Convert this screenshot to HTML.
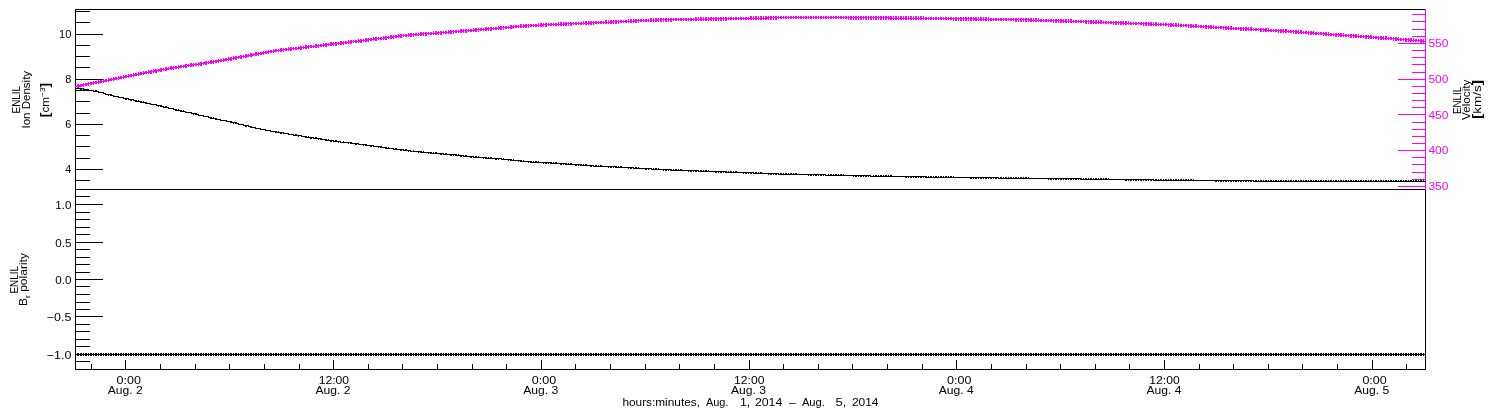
<!DOCTYPE html>
<html><head><meta charset="utf-8"><title>ENLIL time series</title>
<style>html,body{margin:0;padding:0;background:#fff}body{width:1500px;height:410px;overflow:hidden}svg{display:block}text{font-family:"Liberation Sans",sans-serif;font-size:11px}</style></head><body>
<svg width="1500" height="410" viewBox="0 0 1500 410">
<rect width="1500" height="410" fill="#fff"/>
<path fill="#000" shape-rendering="crispEdges" d="M75 9h1351v1h-1351zM75 9h1v361h-1zM75 189h1351v1h-1351zM75 369h1351v1h-1351zM1425 189h1v181h-1zM75 11h15v1h-15zM75 22h15v1h-15zM75 34h28v1h-28zM75 45h15v1h-15zM75 56h15v1h-15zM75 67h15v1h-15zM75 79h28v1h-28zM75 90h15v1h-15zM75 101h15v1h-15zM75 113h15v1h-15zM75 124h28v1h-28zM75 135h15v1h-15zM75 146h15v1h-15zM75 158h15v1h-15zM75 169h28v1h-28zM75 180h15v1h-15zM75 196h15v1h-15zM75 204h28v1h-28zM75 212h15v1h-15zM75 219h15v1h-15zM75 227h15v1h-15zM75 234h15v1h-15zM75 242h28v1h-28zM75 249h15v1h-15zM75 257h15v1h-15zM75 264h15v1h-15zM75 272h15v1h-15zM75 279h28v1h-28zM75 286h15v1h-15zM75 294h15v1h-15zM75 302h15v1h-15zM75 309h15v1h-15zM75 316h28v1h-28zM75 324h15v1h-15zM75 331h15v1h-15zM75 339h15v1h-15zM75 346h15v1h-15zM75 354h28v1h-28zM75 361h15v1h-15zM91 364h1v5h-1zM125 360h1v9h-1zM160 364h1v5h-1zM195 364h1v5h-1zM229 364h1v5h-1zM264 364h1v5h-1zM299 364h1v5h-1zM333 360h1v9h-1zM368 364h1v5h-1zM402 364h1v5h-1zM437 364h1v5h-1zM472 364h1v5h-1zM506 364h1v5h-1zM541 360h1v9h-1zM575 364h1v5h-1zM610 364h1v5h-1zM645 364h1v5h-1zM679 364h1v5h-1zM714 364h1v5h-1zM749 360h1v9h-1zM783 364h1v5h-1zM818 364h1v5h-1zM852 364h1v5h-1zM887 364h1v5h-1zM922 364h1v5h-1zM956 360h1v9h-1zM991 364h1v5h-1zM1026 364h1v5h-1zM1060 364h1v5h-1zM1095 364h1v5h-1zM1129 364h1v5h-1zM1164 360h1v9h-1zM1199 364h1v5h-1zM1233 364h1v5h-1zM1268 364h1v5h-1zM1302 364h1v5h-1zM1337 364h1v5h-1zM1372 360h1v9h-1zM1406 364h1v5h-1z"/>
<path fill="#ff00ff" shape-rendering="crispEdges" d="M1425 9h1v181h-1zM1412 14h13v1h-13zM1412 21h13v1h-13zM1412 29h13v1h-13zM1412 36h13v1h-13zM1398 43h27v1h-27zM1412 50h13v1h-13zM1412 57h13v1h-13zM1412 64h13v1h-13zM1412 72h13v1h-13zM1398 79h27v1h-27zM1412 86h13v1h-13zM1412 93h13v1h-13zM1412 100h13v1h-13zM1412 107h13v1h-13zM1398 114h27v1h-27zM1412 122h13v1h-13zM1412 129h13v1h-13zM1412 136h13v1h-13zM1412 143h13v1h-13zM1398 150h27v1h-27zM1412 157h13v1h-13zM1412 164h13v1h-13zM1412 172h13v1h-13zM1412 179h13v1h-13zM1398 186h27v1h-27z"/>
<path fill="#000" shape-rendering="crispEdges" d="M75 88h9v1h-9zM84 89h5v1h-5zM89 90h5v1h-5zM94 91h5v1h-5zM99 92h4v1h-4zM103 93h3v1h-3zM106 94h4v1h-4zM110 95h4v1h-4zM114 96h4v1h-4zM118 97h5v1h-5zM123 98h5v1h-5zM128 99h5v1h-5zM133 100h4v1h-4zM137 101h5v1h-5zM142 102h5v1h-5zM147 103h4v1h-4zM151 104h5v1h-5zM156 105h4v1h-4zM160 106h4v1h-4zM164 107h5v1h-5zM169 108h4v1h-4zM173 109h4v1h-4zM177 110h5v1h-5zM182 111h4v1h-4zM186 112h5v1h-5zM191 113h4v1h-4zM195 114h4v1h-4zM199 115h5v1h-5zM204 116h4v1h-4zM208 117h4v1h-4zM212 118h5v1h-5zM217 119h4v1h-4zM221 120h5v1h-5zM226 121h4v1h-4zM230 122h5v1h-5zM235 123h4v1h-4zM239 124h4v1h-4zM243 125h5v1h-5zM248 126h4v1h-4zM252 127h4v1h-4zM256 128h5v1h-5zM261 129h5v1h-5zM266 130h5v1h-5zM271 131h6v1h-6zM277 132h6v1h-6zM283 133h5v1h-5zM288 134h6v1h-6zM294 135h7v1h-7zM301 136h6v1h-6zM307 137h6v1h-6zM313 138h7v1h-7zM320 139h7v1h-7zM327 140h6v1h-6zM333 141h8v1h-8zM341 142h9v1h-9zM350 143h8v1h-8zM358 144h7v1h-7zM365 145h8v1h-8zM373 146h7v1h-7zM380 147h7v1h-7zM387 148h7v1h-7zM394 149h9v1h-9zM403 150h8v1h-8zM411 151h11v1h-11zM422 152h10v1h-10zM432 153h12v1h-12zM444 154h11v1h-11zM455 155h9v1h-9zM464 156h10v1h-10zM474 157h13v1h-13zM487 158h14v1h-14zM501 159h9v1h-9zM510 160h10v1h-10zM520 161h12v1h-12zM532 162h18v1h-18zM550 163h15v1h-15zM565 164h17v1h-17zM582 165h12v1h-12zM594 166h21v1h-21zM615 167h19v1h-19zM634 168h17v1h-17zM651 169h19v1h-19zM670 170h29v1h-29zM699 171h28v1h-28zM727 172h26v1h-26zM753 173h25v1h-25zM778 174h48v1h-48zM826 175h45v1h-45zM871 176h56v1h-56zM927 177h71v1h-71zM998 178h82v1h-82zM1080 179h73v1h-73zM1153 180h101v1h-101zM1254 181h172v1h-172zM80 89h2v1h-2zM83 89h1v1h-1zM88 90h1v1h-1zM93 91h1v1h-1zM95 90h2v1h-2zM98 92h1v1h-1zM103 92h1v1h-1zM105 94h2v1h-2zM108 95h1v1h-1zM110 94h2v1h-2zM113 96h1v1h-1zM118 96h1v1h-1zM123 97h1v1h-1zM125 99h2v1h-2zM128 98h1v1h-1zM130 100h2v1h-2zM133 99h1v1h-1zM135 101h2v1h-2zM138 100h1v1h-1zM140 102h2v1h-2zM143 101h1v1h-1zM145 103h2v1h-2zM150 104h2v1h-2zM155 104h2v1h-2zM158 106h1v1h-1zM160 105h2v1h-2zM163 107h1v1h-1zM165 106h2v1h-2zM168 108h1v1h-1zM173 108h1v1h-1zM175 110h2v1h-2zM178 109h1v1h-1zM180 111h2v1h-2zM183 110h1v1h-1zM185 112h2v1h-2zM190 112h2v1h-2zM193 114h1v1h-1zM195 113h2v1h-2zM198 115h1v1h-1zM203 116h1v1h-1zM208 116h1v1h-1zM210 118h2v1h-2zM213 117h1v1h-1zM215 119h2v1h-2zM220 120h2v1h-2zM225 120h2v1h-2zM230 121h2v1h-2zM233 123h1v1h-1zM235 122h2v1h-2zM238 124h1v1h-1zM243 124h1v1h-1zM245 126h2v1h-2zM248 125h1v1h-1zM250 127h2v1h-2zM255 128h2v1h-2zM260 129h2v1h-2zM265 130h2v1h-2zM270 131h2v1h-2zM275 132h2v1h-2zM278 131h1v1h-1zM280 133h2v1h-2zM283 132h1v1h-1zM288 133h1v1h-1zM293 135h1v1h-1zM295 134h2v1h-2zM298 136h1v1h-1zM300 135h2v1h-2zM305 137h2v1h-2zM308 136h1v1h-1zM310 138h2v1h-2zM313 137h1v1h-1zM315 137h2v1h-2zM318 139h1v1h-1zM320 138h2v1h-2zM325 140h2v1h-2zM328 139h1v1h-1zM330 141h2v1h-2zM333 140h1v1h-1zM335 140h2v1h-2zM338 142h1v1h-1zM340 142h2v1h-2zM343 141h1v1h-1zM348 143h1v1h-1zM350 142h2v1h-2zM355 144h2v1h-2zM358 143h1v1h-1zM363 145h1v1h-1zM365 144h2v1h-2zM370 146h2v1h-2zM373 145h1v1h-1zM378 147h1v1h-1zM380 146h2v1h-2zM385 148h2v1h-2zM388 147h1v1h-1zM393 149h1v1h-1zM395 148h2v1h-2zM400 150h2v1h-2zM403 149h1v1h-1zM405 149h2v1h-2zM408 151h1v1h-1zM410 151h2v1h-2zM413 150h1v1h-1zM418 152h1v1h-1zM420 152h2v1h-2zM423 151h1v1h-1zM428 153h1v1h-1zM430 153h2v1h-2zM433 152h1v1h-1zM435 152h2v1h-2zM440 154h2v1h-2zM443 154h1v1h-1zM445 153h2v1h-2zM450 155h2v1h-2zM453 155h1v1h-1zM455 154h2v1h-2zM458 154h1v1h-1zM460 156h2v1h-2zM463 156h1v1h-1zM465 155h2v1h-2zM470 157h2v1h-2zM473 157h1v1h-1zM475 156h2v1h-2zM478 156h1v1h-1zM483 158h1v1h-1zM485 158h2v1h-2zM488 157h1v1h-1zM490 157h2v1h-2zM495 159h2v1h-2zM498 159h1v1h-1zM500 158h2v1h-2zM503 158h1v1h-1zM508 160h1v1h-1zM510 159h2v1h-2zM513 159h1v1h-1zM518 161h1v1h-1zM520 160h2v1h-2zM523 160h1v1h-1zM528 162h1v1h-1zM530 162h2v1h-2zM533 161h1v1h-1zM535 161h2v1h-2zM538 161h1v1h-1zM543 163h1v1h-1zM545 163h2v1h-2zM548 163h1v1h-1zM550 162h2v1h-2zM553 162h1v1h-1zM555 162h2v1h-2zM560 164h2v1h-2zM563 164h1v1h-1zM565 163h2v1h-2zM568 163h1v1h-1zM570 163h2v1h-2zM575 165h2v1h-2zM578 165h1v1h-1zM580 165h2v1h-2zM583 164h1v1h-1zM585 164h2v1h-2zM590 166h2v1h-2zM593 166h1v1h-1zM595 165h2v1h-2zM598 165h1v1h-1zM600 165h2v1h-2zM608 167h1v1h-1zM610 167h2v1h-2zM613 167h1v1h-1zM615 166h2v1h-2zM618 166h1v1h-1zM620 166h2v1h-2zM628 168h1v1h-1zM630 168h2v1h-2zM633 168h1v1h-1zM635 167h2v1h-2zM638 167h1v1h-1zM645 169h2v1h-2zM648 169h1v1h-1zM650 168h2v1h-2zM653 168h1v1h-1zM655 168h2v1h-2zM658 168h1v1h-1zM663 170h1v1h-1zM665 170h2v1h-2zM668 170h1v1h-1zM670 169h2v1h-2zM673 169h1v1h-1zM675 169h2v1h-2zM678 169h1v1h-1zM680 169h2v1h-2zM688 171h1v1h-1zM690 171h2v1h-2zM693 171h1v1h-1zM695 171h2v1h-2zM698 171h1v1h-1zM700 170h2v1h-2zM703 170h1v1h-1zM705 170h2v1h-2zM708 170h1v1h-1zM715 172h2v1h-2zM718 172h1v1h-1zM720 172h2v1h-2zM723 172h1v1h-1zM725 172h2v1h-2zM728 171h1v1h-1zM730 171h2v1h-2zM733 171h1v1h-1zM735 171h2v1h-2zM743 173h1v1h-1zM745 173h2v1h-2zM748 173h1v1h-1zM750 173h2v1h-2zM753 172h1v1h-1zM755 172h2v1h-2zM758 172h1v1h-1zM760 172h2v1h-2zM768 174h1v1h-1zM770 174h2v1h-2zM773 174h1v1h-1zM775 174h2v1h-2zM778 173h1v1h-1zM780 173h2v1h-2zM783 173h1v1h-1zM785 173h2v1h-2zM788 173h1v1h-1zM790 173h2v1h-2zM793 173h1v1h-1zM795 173h2v1h-2zM808 175h1v1h-1zM810 175h2v1h-2zM813 175h1v1h-1zM815 175h2v1h-2zM818 175h1v1h-1zM820 175h2v1h-2zM823 175h1v1h-1zM825 175h2v1h-2zM828 174h1v1h-1zM830 174h2v1h-2zM833 174h1v1h-1zM835 174h2v1h-2zM838 174h1v1h-1zM840 174h2v1h-2zM843 174h1v1h-1zM853 176h1v1h-1zM855 176h2v1h-2zM858 176h1v1h-1zM860 176h2v1h-2zM863 176h1v1h-1zM865 176h2v1h-2zM868 176h1v1h-1zM870 176h2v1h-2zM873 175h1v1h-1zM875 175h2v1h-2zM878 175h1v1h-1zM880 175h2v1h-2zM883 175h1v1h-1zM885 175h2v1h-2zM888 175h1v1h-1zM890 175h2v1h-2zM905 177h2v1h-2zM908 177h1v1h-1zM910 177h2v1h-2zM913 177h1v1h-1zM915 177h2v1h-2zM918 177h1v1h-1zM920 177h2v1h-2zM923 177h1v1h-1zM925 177h2v1h-2zM928 176h1v1h-1zM930 176h2v1h-2zM933 176h1v1h-1zM935 176h2v1h-2zM938 176h1v1h-1zM940 176h2v1h-2zM943 176h1v1h-1zM945 176h2v1h-2zM948 176h1v1h-1zM950 176h2v1h-2zM953 176h1v1h-1zM970 178h2v1h-2zM973 178h1v1h-1zM975 178h2v1h-2zM978 178h1v1h-1zM980 178h2v1h-2zM983 178h1v1h-1zM985 178h2v1h-2zM988 178h1v1h-1zM990 178h2v1h-2zM993 178h1v1h-1zM995 178h2v1h-2zM998 177h1v1h-1zM1000 177h2v1h-2zM1003 177h1v1h-1zM1005 177h2v1h-2zM1008 177h1v1h-1zM1010 177h2v1h-2zM1013 177h1v1h-1zM1015 177h2v1h-2zM1018 177h1v1h-1zM1020 177h2v1h-2zM1023 177h1v1h-1zM1025 177h2v1h-2zM1028 177h1v1h-1zM1048 179h1v1h-1zM1050 179h2v1h-2zM1053 179h1v1h-1zM1055 179h2v1h-2zM1058 179h1v1h-1zM1060 179h2v1h-2zM1063 179h1v1h-1zM1065 179h2v1h-2zM1068 179h1v1h-1zM1070 179h2v1h-2zM1073 179h1v1h-1zM1075 179h2v1h-2zM1078 179h1v1h-1zM1080 178h2v1h-2zM1083 178h1v1h-1zM1085 178h2v1h-2zM1088 178h1v1h-1zM1090 178h2v1h-2zM1093 178h1v1h-1zM1095 178h2v1h-2zM1098 178h1v1h-1zM1100 178h2v1h-2zM1103 178h1v1h-1zM1105 178h2v1h-2zM1108 178h1v1h-1zM1125 180h2v1h-2zM1128 180h1v1h-1zM1130 180h2v1h-2zM1133 180h1v1h-1zM1135 180h2v1h-2zM1138 180h1v1h-1zM1140 180h2v1h-2zM1143 180h1v1h-1zM1145 180h2v1h-2zM1148 180h1v1h-1zM1150 180h2v1h-2zM1153 179h1v1h-1zM1155 179h2v1h-2zM1158 179h1v1h-1zM1160 179h2v1h-2zM1163 179h1v1h-1zM1165 179h2v1h-2zM1168 179h1v1h-1zM1170 179h2v1h-2zM1173 179h1v1h-1zM1175 179h2v1h-2zM1178 179h1v1h-1zM1180 179h2v1h-2zM1183 179h1v1h-1zM1185 179h2v1h-2zM1188 179h1v1h-1zM1190 179h2v1h-2zM1193 179h1v1h-1zM1215 181h2v1h-2zM1218 181h1v1h-1zM1220 181h2v1h-2zM1223 181h1v1h-1zM1225 181h2v1h-2zM1228 181h1v1h-1zM1230 181h2v1h-2zM1233 181h1v1h-1zM1235 181h2v1h-2zM1238 181h1v1h-1zM1240 181h2v1h-2zM1243 181h1v1h-1zM1245 181h2v1h-2zM1248 181h1v1h-1zM1250 181h2v1h-2zM1253 181h1v1h-1zM1255 180h2v1h-2zM1258 180h1v1h-1zM1260 180h2v1h-2zM1263 180h1v1h-1zM1265 180h2v1h-2zM1268 180h1v1h-1zM1270 180h2v1h-2zM1273 180h1v1h-1zM1275 180h2v1h-2zM1278 180h1v1h-1zM1280 180h2v1h-2zM1283 180h1v1h-1zM1285 180h2v1h-2zM1288 180h1v1h-1zM1290 180h2v1h-2zM1293 180h1v1h-1zM1295 180h2v1h-2zM1298 180h1v1h-1zM1300 180h2v1h-2zM1303 180h1v1h-1zM1305 180h2v1h-2zM1308 180h1v1h-1zM1310 180h2v1h-2zM1313 180h1v1h-1zM1315 180h2v1h-2zM1318 180h1v1h-1zM1320 180h2v1h-2zM1323 180h1v1h-1zM1325 180h2v1h-2zM1328 180h1v1h-1zM1330 180h2v1h-2zM1333 180h1v1h-1zM1335 180h2v1h-2zM1338 180h1v1h-1zM1340 180h2v1h-2zM1343 180h1v1h-1zM1345 180h2v1h-2zM1348 180h1v1h-1zM1350 180h2v1h-2zM1353 180h1v1h-1zM1355 180h2v1h-2zM1358 180h1v1h-1zM1360 180h2v1h-2zM1363 180h1v1h-1zM1365 180h2v1h-2zM1368 180h1v1h-1zM1370 180h2v1h-2zM1373 180h1v1h-1zM1375 180h2v1h-2zM1378 180h1v1h-1zM1380 180h2v1h-2zM1383 180h1v1h-1zM1385 180h2v1h-2zM1388 180h1v1h-1zM1390 180h2v1h-2zM1393 180h1v1h-1zM1395 180h2v1h-2zM1398 180h1v1h-1zM1400 180h2v1h-2zM1403 180h1v1h-1zM1405 180h2v1h-2zM1408 180h1v1h-1zM1410 180h2v1h-2zM1413 180h1v1h-1zM1415 180h2v1h-2zM1418 180h1v1h-1zM1420 180h2v1h-2zM1423 180h1v1h-1z"/>
<path fill="#ff00ff" shape-rendering="crispEdges" d="M75 86h3v1h-3zM78 85h5v1h-5zM83 84h5v1h-5zM88 83h5v1h-5zM93 82h6v1h-6zM99 81h5v1h-5zM104 80h5v1h-5zM109 79h5v1h-5zM114 78h5v1h-5zM119 77h5v1h-5zM124 76h5v1h-5zM129 75h5v1h-5zM134 74h5v1h-5zM139 73h5v1h-5zM144 72h5v1h-5zM149 71h6v1h-6zM155 70h6v1h-6zM161 69h5v1h-5zM166 68h6v1h-6zM172 67h7v1h-7zM179 66h7v1h-7zM186 65h7v1h-7zM193 64h6v1h-6zM199 63h7v1h-7zM206 62h6v1h-6zM212 61h6v1h-6zM218 60h6v1h-6zM224 59h6v1h-6zM230 58h5v1h-5zM235 57h6v1h-6zM241 56h5v1h-5zM246 55h6v1h-6zM252 54h5v1h-5zM257 53h6v1h-6zM263 52h5v1h-5zM268 51h6v1h-6zM274 50h8v1h-8zM282 49h9v1h-9zM291 48h8v1h-8zM299 47h9v1h-9zM308 46h8v1h-8zM316 45h9v1h-9zM325 44h8v1h-8zM333 43h9v1h-9zM342 42h9v1h-9zM351 41h8v1h-8zM359 40h9v1h-9zM368 39h8v1h-8zM376 38h8v1h-8zM384 37h8v1h-8zM392 36h8v1h-8zM400 35h10v1h-10zM410 34h13v1h-13zM423 33h14v1h-14zM437 32h14v1h-14zM451 31h12v1h-12zM463 30h13v1h-13zM476 29h12v1h-12zM488 28h13v1h-13zM501 27h11v1h-11zM512 26h13v1h-13zM525 25h16v1h-16zM541 24h24v1h-24zM565 23h24v1h-24zM589 22h23v1h-23zM612 21h22v1h-22zM634 20h22v1h-22zM656 19h54v1h-54zM710 18h57v1h-57zM767 17h123v1h-123zM890 18h84v1h-84zM974 19h57v1h-57zM1031 20h32v1h-32zM1063 21h30v1h-30zM1093 22h28v1h-28zM1121 23h30v1h-30zM1151 24h22v1h-22zM1173 25h19v1h-19zM1192 26h18v1h-18zM1210 27h17v1h-17zM1227 28h19v1h-19zM1246 29h19v1h-19zM1265 30h17v1h-17zM1282 31h16v1h-16zM1298 32h13v1h-13zM1311 33h15v1h-15zM1326 34h14v1h-14zM1340 35h14v1h-14zM1354 36h15v1h-15zM1369 37h14v1h-14zM1383 38h13v1h-13zM1396 39h14v1h-14zM1410 40h13v1h-13zM1423 41h3v1h-3zM77 84h2v4h-2zM76 86h4v1h-4zM80 84h2v3h-2zM79 85h4v1h-4zM83 83h1v4h-1zM82 84h3v1h-3zM85 83h2v3h-2zM84 84h4v1h-4zM88 82h1v4h-1zM87 83h3v1h-3zM90 82h2v3h-2zM89 83h4v1h-4zM93 81h1v4h-1zM92 82h3v1h-3zM95 81h2v3h-2zM94 82h4v1h-4zM98 80h1v4h-1zM97 82h3v1h-3zM100 80h2v3h-2zM99 81h4v1h-4zM103 79h1v4h-1zM102 81h3v1h-3zM105 79h2v3h-2zM104 80h4v1h-4zM108 78h1v4h-1zM107 80h3v1h-3zM110 78h2v3h-2zM109 79h4v1h-4zM113 77h1v4h-1zM112 79h3v1h-3zM115 77h2v3h-2zM114 78h4v1h-4zM118 76h1v4h-1zM117 78h3v1h-3zM120 76h2v3h-2zM119 77h4v1h-4zM123 75h1v4h-1zM122 77h3v1h-3zM125 75h2v3h-2zM124 76h4v1h-4zM128 74h1v4h-1zM127 76h3v1h-3zM130 74h2v3h-2zM129 75h4v1h-4zM133 73h1v4h-1zM132 75h3v1h-3zM135 73h2v3h-2zM134 74h4v1h-4zM138 72h1v4h-1zM137 74h3v1h-3zM140 72h2v3h-2zM139 73h4v1h-4zM143 71h1v4h-1zM142 73h3v1h-3zM145 71h2v3h-2zM144 72h4v1h-4zM148 70h1v4h-1zM147 72h3v1h-3zM150 70h2v4h-2zM149 71h4v1h-4zM153 69h1v4h-1zM152 71h3v1h-3zM155 69h2v4h-2zM154 70h4v1h-4zM158 69h1v3h-1zM157 70h3v1h-3zM160 68h2v4h-2zM159 69h4v1h-4zM163 68h1v3h-1zM162 69h3v1h-3zM165 67h2v4h-2zM164 69h4v1h-4zM168 67h1v3h-1zM167 68h3v1h-3zM170 66h2v4h-2zM169 68h4v1h-4zM173 66h1v4h-1zM172 67h3v1h-3zM175 66h2v3h-2zM174 67h4v1h-4zM178 65h1v4h-1zM177 67h3v1h-3zM180 65h2v3h-2zM179 66h4v1h-4zM183 65h1v3h-1zM182 66h3v1h-3zM185 64h2v4h-2zM184 65h4v1h-4zM188 64h1v3h-1zM187 65h3v1h-3zM190 63h2v4h-2zM189 65h4v1h-4zM193 63h1v4h-1zM192 64h3v1h-3zM195 63h2v3h-2zM194 64h4v1h-4zM198 62h1v4h-1zM197 64h3v1h-3zM200 62h2v4h-2zM199 63h4v1h-4zM203 62h1v3h-1zM202 63h3v1h-3zM205 61h2v4h-2zM204 62h4v1h-4zM208 61h1v3h-1zM207 62h3v1h-3zM210 60h2v4h-2zM209 62h4v1h-4zM213 60h1v4h-1zM212 61h3v1h-3zM215 60h2v3h-2zM214 61h4v1h-4zM218 59h1v4h-1zM217 60h3v1h-3zM220 59h2v3h-2zM219 60h4v1h-4zM223 58h1v4h-1zM222 60h3v1h-3zM225 58h2v3h-2zM224 59h4v1h-4zM228 57h1v4h-1zM227 59h3v1h-3zM230 57h2v4h-2zM229 58h4v1h-4zM233 56h1v4h-1zM232 58h3v1h-3zM235 56h2v4h-2zM234 57h4v1h-4zM238 56h1v3h-1zM237 57h3v1h-3zM240 55h2v4h-2zM239 56h4v1h-4zM243 55h1v3h-1zM242 56h3v1h-3zM245 54h2v4h-2zM244 56h4v1h-4zM248 54h1v3h-1zM247 55h3v1h-3zM250 53h2v4h-2zM249 55h4v1h-4zM253 53h1v3h-1zM252 54h3v1h-3zM255 52h2v4h-2zM254 54h4v1h-4zM258 52h1v4h-1zM257 53h3v1h-3zM260 52h2v3h-2zM259 53h4v1h-4zM263 51h1v4h-1zM262 52h3v1h-3zM265 51h2v3h-2zM264 52h4v1h-4zM268 50h1v4h-1zM267 51h3v1h-3zM270 50h2v3h-2zM269 51h4v1h-4zM273 49h1v4h-1zM272 51h3v1h-3zM275 49h2v3h-2zM274 50h4v1h-4zM278 49h1v3h-1zM277 50h3v1h-3zM280 48h2v4h-2zM279 50h4v1h-4zM283 48h1v4h-1zM282 49h3v1h-3zM285 48h2v3h-2zM284 49h4v1h-4zM288 47h1v4h-1zM287 49h3v1h-3zM290 47h2v4h-2zM289 48h4v1h-4zM293 47h1v3h-1zM292 48h3v1h-3zM295 47h2v3h-2zM294 48h4v1h-4zM298 46h1v4h-1zM297 48h3v1h-3zM300 46h2v4h-2zM299 47h4v1h-4zM303 46h1v3h-1zM302 47h3v1h-3zM305 45h2v4h-2zM304 47h4v1h-4zM308 45h1v4h-1zM307 46h3v1h-3zM310 45h2v3h-2zM309 46h4v1h-4zM313 45h1v3h-1zM312 46h3v1h-3zM315 44h2v4h-2zM314 46h4v1h-4zM318 44h1v4h-1zM317 45h3v1h-3zM320 44h2v3h-2zM319 45h4v1h-4zM323 43h1v4h-1zM322 45h3v1h-3zM325 43h2v4h-2zM324 44h4v1h-4zM328 43h1v3h-1zM327 44h3v1h-3zM330 42h2v4h-2zM329 44h4v1h-4zM333 42h1v4h-1zM332 43h3v1h-3zM335 42h2v4h-2zM334 43h4v1h-4zM338 42h1v3h-1zM337 43h3v1h-3zM340 41h2v4h-2zM339 43h4v1h-4zM343 41h1v4h-1zM342 42h3v1h-3zM345 41h2v3h-2zM344 42h4v1h-4zM348 40h1v4h-1zM347 42h3v1h-3zM350 40h2v4h-2zM349 41h4v1h-4zM353 40h1v3h-1zM352 41h3v1h-3zM355 40h2v3h-2zM354 41h4v1h-4zM358 39h1v4h-1zM357 41h3v1h-3zM360 39h2v4h-2zM359 40h4v1h-4zM363 39h1v3h-1zM362 40h3v1h-3zM365 38h2v4h-2zM364 40h4v1h-4zM368 38h1v4h-1zM367 39h3v1h-3zM370 38h2v3h-2zM369 39h4v1h-4zM373 37h1v4h-1zM372 39h3v1h-3zM375 37h2v4h-2zM374 38h4v1h-4zM378 37h1v3h-1zM377 38h3v1h-3zM380 37h2v3h-2zM379 38h4v1h-4zM383 36h1v4h-1zM382 38h3v1h-3zM385 36h2v4h-2zM384 37h4v1h-4zM388 36h1v3h-1zM387 37h3v1h-3zM390 35h2v4h-2zM389 37h4v1h-4zM393 35h1v4h-1zM392 36h3v1h-3zM395 35h2v3h-2zM394 36h4v1h-4zM398 34h1v4h-1zM397 36h3v1h-3zM400 34h2v4h-2zM399 35h4v1h-4zM403 34h1v3h-1zM402 35h3v1h-3zM405 34h2v3h-2zM404 35h4v1h-4zM408 33h1v4h-1zM407 35h3v1h-3zM410 33h2v4h-2zM409 34h4v1h-4zM413 33h1v4h-1zM412 34h3v1h-3zM415 33h2v3h-2zM414 34h4v1h-4zM418 33h1v3h-1zM417 34h3v1h-3zM420 32h2v4h-2zM419 34h4v1h-4zM423 32h1v4h-1zM422 33h3v1h-3zM425 32h2v4h-2zM424 33h4v1h-4zM428 32h1v3h-1zM427 33h3v1h-3zM430 32h2v3h-2zM429 33h4v1h-4zM433 31h1v4h-1zM432 33h3v1h-3zM435 31h2v4h-2zM434 33h4v1h-4zM438 31h1v4h-1zM437 32h3v1h-3zM440 31h2v4h-2zM439 32h4v1h-4zM443 31h1v3h-1zM442 32h3v1h-3zM445 31h2v3h-2zM444 32h4v1h-4zM448 30h1v4h-1zM447 32h3v1h-3zM450 30h2v4h-2zM449 31h4v1h-4zM453 30h1v4h-1zM452 31h3v1h-3zM455 30h2v3h-2zM454 31h4v1h-4zM458 30h1v3h-1zM457 31h3v1h-3zM460 29h2v4h-2zM459 31h4v1h-4zM463 29h1v4h-1zM462 30h3v1h-3zM465 29h2v4h-2zM464 30h4v1h-4zM468 29h1v3h-1zM467 30h3v1h-3zM470 29h2v3h-2zM469 30h4v1h-4zM473 28h1v4h-1zM472 30h3v1h-3zM475 28h2v4h-2zM474 29h4v1h-4zM478 28h1v4h-1zM477 29h3v1h-3zM480 28h2v3h-2zM479 29h4v1h-4zM483 28h1v3h-1zM482 29h3v1h-3zM485 27h2v4h-2zM484 29h4v1h-4zM488 27h1v4h-1zM487 28h3v1h-3zM490 27h2v4h-2zM489 28h4v1h-4zM493 27h1v3h-1zM492 28h3v1h-3zM495 27h2v3h-2zM494 28h4v1h-4zM498 26h1v4h-1zM497 28h3v1h-3zM500 26h2v4h-2zM499 27h4v1h-4zM503 26h1v4h-1zM502 27h3v1h-3zM505 26h2v3h-2zM504 27h4v1h-4zM508 26h1v3h-1zM507 27h3v1h-3zM510 25h2v4h-2zM509 27h4v1h-4zM513 25h1v4h-1zM512 26h3v1h-3zM515 25h2v3h-2zM514 26h4v1h-4zM518 25h1v3h-1zM517 26h3v1h-3zM520 24h2v4h-2zM519 26h4v1h-4zM523 24h1v4h-1zM522 26h3v1h-3zM525 24h2v4h-2zM524 25h4v1h-4zM528 24h1v4h-1zM527 25h3v1h-3zM530 24h2v3h-2zM529 25h4v1h-4zM533 24h1v3h-1zM532 25h3v1h-3zM535 24h2v3h-2zM534 25h4v1h-4zM538 23h1v4h-1zM537 25h3v1h-3zM540 23h2v4h-2zM539 25h4v1h-4zM543 23h1v4h-1zM542 24h3v1h-3zM545 23h2v4h-2zM544 24h4v1h-4zM548 23h1v3h-1zM547 24h3v1h-3zM550 23h2v3h-2zM549 24h4v1h-4zM553 23h1v3h-1zM552 24h3v1h-3zM555 23h2v3h-2zM554 24h4v1h-4zM558 22h1v4h-1zM557 24h3v1h-3zM560 22h2v4h-2zM559 24h4v1h-4zM563 22h1v4h-1zM562 24h3v1h-3zM565 22h2v4h-2zM564 23h4v1h-4zM568 22h1v4h-1zM567 23h3v1h-3zM570 22h2v4h-2zM569 23h4v1h-4zM573 22h1v3h-1zM572 23h3v1h-3zM575 22h2v3h-2zM574 23h4v1h-4zM578 22h1v3h-1zM577 23h3v1h-3zM580 22h2v3h-2zM579 23h4v1h-4zM583 21h1v4h-1zM582 23h3v1h-3zM585 21h2v4h-2zM584 23h4v1h-4zM588 21h1v4h-1zM587 23h3v1h-3zM590 21h2v4h-2zM589 22h4v1h-4zM593 21h1v4h-1zM592 22h3v1h-3zM595 21h2v3h-2zM594 22h4v1h-4zM598 21h1v3h-1zM597 22h3v1h-3zM600 21h2v3h-2zM599 22h4v1h-4zM603 21h1v3h-1zM602 22h3v1h-3zM605 20h2v4h-2zM604 22h4v1h-4zM608 20h1v4h-1zM607 22h3v1h-3zM610 20h2v4h-2zM609 22h4v1h-4zM613 20h1v4h-1zM612 21h3v1h-3zM615 20h2v4h-2zM614 21h4v1h-4zM618 20h1v4h-1zM617 21h3v1h-3zM620 20h2v3h-2zM619 21h4v1h-4zM623 20h1v3h-1zM622 21h3v1h-3zM625 20h2v3h-2zM624 21h4v1h-4zM628 19h1v4h-1zM627 21h3v1h-3zM630 19h2v4h-2zM629 21h4v1h-4zM633 19h1v4h-1zM632 21h3v1h-3zM635 19h2v4h-2zM634 20h4v1h-4zM638 19h1v4h-1zM637 20h3v1h-3zM640 19h2v3h-2zM639 20h4v1h-4zM643 19h1v3h-1zM642 20h3v1h-3zM645 19h2v3h-2zM644 20h4v1h-4zM648 19h1v3h-1zM647 20h3v1h-3zM650 18h2v4h-2zM649 20h4v1h-4zM653 18h1v4h-1zM652 20h3v1h-3zM655 18h2v4h-2zM654 20h4v1h-4zM658 18h1v4h-1zM657 19h3v1h-3zM660 18h2v4h-2zM659 19h4v1h-4zM663 18h1v4h-1zM662 19h3v1h-3zM665 18h2v4h-2zM664 19h4v1h-4zM668 18h1v4h-1zM667 19h3v1h-3zM670 18h2v4h-2zM669 19h4v1h-4zM673 18h1v3h-1zM672 19h3v1h-3zM675 18h2v3h-2zM674 19h4v1h-4zM678 18h1v3h-1zM677 19h3v1h-3zM680 18h2v3h-2zM679 19h4v1h-4zM683 18h1v3h-1zM682 19h3v1h-3zM685 18h2v3h-2zM684 19h4v1h-4zM688 18h1v3h-1zM687 19h3v1h-3zM690 18h2v3h-2zM689 19h4v1h-4zM693 18h1v3h-1zM692 19h3v1h-3zM695 17h2v4h-2zM694 19h4v1h-4zM698 17h1v4h-1zM697 19h3v1h-3zM700 17h2v4h-2zM699 19h4v1h-4zM703 17h1v4h-1zM702 19h3v1h-3zM705 17h2v4h-2zM704 19h4v1h-4zM708 17h1v4h-1zM707 19h3v1h-3zM710 17h2v4h-2zM709 18h4v1h-4zM713 17h1v4h-1zM712 18h3v1h-3zM715 17h2v4h-2zM714 18h4v1h-4zM718 17h1v4h-1zM717 18h3v1h-3zM720 17h2v4h-2zM719 18h4v1h-4zM723 17h1v4h-1zM722 18h3v1h-3zM725 17h2v4h-2zM724 18h4v1h-4zM728 17h1v3h-1zM727 18h3v1h-3zM730 17h2v3h-2zM729 18h4v1h-4zM733 17h1v3h-1zM732 18h3v1h-3zM735 17h2v3h-2zM734 18h4v1h-4zM738 17h1v3h-1zM737 18h3v1h-3zM740 17h2v3h-2zM739 18h4v1h-4zM743 17h1v3h-1zM742 18h3v1h-3zM745 17h2v3h-2zM744 18h4v1h-4zM748 17h1v3h-1zM747 18h3v1h-3zM750 16h2v4h-2zM749 18h4v1h-4zM753 16h1v4h-1zM752 18h3v1h-3zM755 16h2v4h-2zM754 18h4v1h-4zM758 16h1v4h-1zM757 18h3v1h-3zM760 16h2v4h-2zM759 18h4v1h-4zM763 16h1v4h-1zM762 18h3v1h-3zM765 16h2v4h-2zM764 18h4v1h-4zM768 16h1v4h-1zM767 17h3v1h-3zM770 16h2v4h-2zM769 17h4v1h-4zM773 16h1v4h-1zM772 17h3v1h-3zM775 16h2v4h-2zM774 17h4v1h-4zM778 16h1v3h-1zM777 17h3v1h-3zM780 16h2v3h-2zM779 17h4v1h-4zM783 16h1v3h-1zM782 17h3v1h-3zM785 16h2v3h-2zM784 17h4v1h-4zM788 16h1v3h-1zM787 17h3v1h-3zM790 16h2v3h-2zM789 17h4v1h-4zM793 16h1v3h-1zM792 17h3v1h-3zM795 16h2v3h-2zM794 17h4v1h-4zM798 16h1v3h-1zM797 17h3v1h-3zM800 16h2v3h-2zM799 17h4v1h-4zM803 16h1v3h-1zM802 17h3v1h-3zM805 16h2v3h-2zM804 17h4v1h-4zM808 16h1v3h-1zM807 17h3v1h-3zM810 16h2v3h-2zM809 17h4v1h-4zM813 16h1v3h-1zM812 17h3v1h-3zM815 16h2v3h-2zM814 17h4v1h-4zM818 16h1v3h-1zM817 17h3v1h-3zM820 16h2v3h-2zM819 17h4v1h-4zM823 16h1v3h-1zM822 17h3v1h-3zM825 16h2v3h-2zM824 17h4v1h-4zM828 16h1v3h-1zM827 17h3v1h-3zM830 16h2v3h-2zM829 17h4v1h-4zM833 16h1v3h-1zM832 17h3v1h-3zM835 16h2v3h-2zM834 17h4v1h-4zM838 16h1v3h-1zM837 17h3v1h-3zM840 16h2v3h-2zM839 17h4v1h-4zM843 16h1v3h-1zM842 17h3v1h-3zM845 16h2v3h-2zM844 17h4v1h-4zM848 16h1v4h-1zM847 17h3v1h-3zM850 16h2v4h-2zM849 17h4v1h-4zM853 16h1v4h-1zM852 17h3v1h-3zM855 16h2v4h-2zM854 17h4v1h-4zM858 16h1v4h-1zM857 17h3v1h-3zM860 16h2v4h-2zM859 17h4v1h-4zM863 16h1v4h-1zM862 17h3v1h-3zM865 16h2v4h-2zM864 17h4v1h-4zM868 16h1v4h-1zM867 17h3v1h-3zM870 16h2v4h-2zM869 17h4v1h-4zM873 16h1v4h-1zM872 17h3v1h-3zM875 16h2v4h-2zM874 17h4v1h-4zM878 16h1v4h-1zM877 17h3v1h-3zM880 16h2v4h-2zM879 17h4v1h-4zM883 16h1v4h-1zM882 17h3v1h-3zM885 16h2v4h-2zM884 17h4v1h-4zM888 16h1v4h-1zM887 17h3v1h-3zM890 16h2v4h-2zM889 18h4v1h-4zM893 16h1v4h-1zM892 18h3v1h-3zM895 16h2v4h-2zM894 18h4v1h-4zM898 16h1v4h-1zM897 18h3v1h-3zM900 16h2v4h-2zM899 18h4v1h-4zM903 16h1v4h-1zM902 18h3v1h-3zM905 16h2v4h-2zM904 18h4v1h-4zM908 16h1v4h-1zM907 18h3v1h-3zM910 16h2v4h-2zM909 18h4v1h-4zM913 16h1v4h-1zM912 18h3v1h-3zM915 16h2v4h-2zM914 18h4v1h-4zM918 16h1v4h-1zM917 18h3v1h-3zM920 16h2v4h-2zM919 18h4v1h-4zM923 16h1v4h-1zM922 18h3v1h-3zM925 17h2v3h-2zM924 18h4v1h-4zM928 17h1v3h-1zM927 18h3v1h-3zM930 17h2v3h-2zM929 18h4v1h-4zM933 17h1v3h-1zM932 18h3v1h-3zM935 17h2v3h-2zM934 18h4v1h-4zM938 17h1v3h-1zM937 18h3v1h-3zM940 17h2v3h-2zM939 18h4v1h-4zM943 17h1v3h-1zM942 18h3v1h-3zM945 17h2v3h-2zM944 18h4v1h-4zM948 17h1v3h-1zM947 18h3v1h-3zM950 17h2v3h-2zM949 18h4v1h-4zM953 17h1v4h-1zM952 18h3v1h-3zM955 17h2v4h-2zM954 18h4v1h-4zM958 17h1v4h-1zM957 18h3v1h-3zM960 17h2v4h-2zM959 18h4v1h-4zM963 17h1v4h-1zM962 18h3v1h-3zM965 17h2v4h-2zM964 18h4v1h-4zM968 17h1v4h-1zM967 18h3v1h-3zM970 17h2v4h-2zM969 18h4v1h-4zM973 17h1v4h-1zM972 18h3v1h-3zM975 17h2v4h-2zM974 19h4v1h-4zM978 17h1v4h-1zM977 19h3v1h-3zM980 17h2v4h-2zM979 19h4v1h-4zM983 17h1v4h-1zM982 19h3v1h-3zM985 17h2v4h-2zM984 19h4v1h-4zM988 17h1v4h-1zM987 19h3v1h-3zM990 18h2v3h-2zM989 19h4v1h-4zM993 18h1v3h-1zM992 19h3v1h-3zM995 18h2v3h-2zM994 19h4v1h-4zM998 18h1v3h-1zM997 19h3v1h-3zM1000 18h2v3h-2zM999 19h4v1h-4zM1003 18h1v3h-1zM1002 19h3v1h-3zM1005 18h2v3h-2zM1004 19h4v1h-4zM1008 18h1v3h-1zM1007 19h3v1h-3zM1010 18h2v3h-2zM1009 19h4v1h-4zM1013 18h1v3h-1zM1012 19h3v1h-3zM1015 18h2v4h-2zM1014 19h4v1h-4zM1018 18h1v4h-1zM1017 19h3v1h-3zM1020 18h2v4h-2zM1019 19h4v1h-4zM1023 18h1v4h-1zM1022 19h3v1h-3zM1025 18h2v4h-2zM1024 19h4v1h-4zM1028 18h1v4h-1zM1027 19h3v1h-3zM1030 18h2v4h-2zM1029 20h4v1h-4zM1033 18h1v4h-1zM1032 20h3v1h-3zM1035 18h2v4h-2zM1034 20h4v1h-4zM1038 18h1v4h-1zM1037 20h3v1h-3zM1040 19h2v3h-2zM1039 20h4v1h-4zM1043 19h1v3h-1zM1042 20h3v1h-3zM1045 19h2v3h-2zM1044 20h4v1h-4zM1048 19h1v3h-1zM1047 20h3v1h-3zM1050 19h2v3h-2zM1049 20h4v1h-4zM1053 19h1v4h-1zM1052 20h3v1h-3zM1055 19h2v4h-2zM1054 20h4v1h-4zM1058 19h1v4h-1zM1057 20h3v1h-3zM1060 19h2v4h-2zM1059 20h4v1h-4zM1063 19h1v4h-1zM1062 21h3v1h-3zM1065 19h2v4h-2zM1064 21h4v1h-4zM1068 19h1v4h-1zM1067 21h3v1h-3zM1070 19h2v4h-2zM1069 21h4v1h-4zM1073 20h1v3h-1zM1072 21h3v1h-3zM1075 20h2v3h-2zM1074 21h4v1h-4zM1078 20h1v3h-1zM1077 21h3v1h-3zM1080 20h2v3h-2zM1079 21h4v1h-4zM1083 20h1v3h-1zM1082 21h3v1h-3zM1085 20h2v4h-2zM1084 21h4v1h-4zM1088 20h1v4h-1zM1087 21h3v1h-3zM1090 20h2v4h-2zM1089 21h4v1h-4zM1093 20h1v4h-1zM1092 22h3v1h-3zM1095 20h2v4h-2zM1094 22h4v1h-4zM1098 20h1v4h-1zM1097 22h3v1h-3zM1100 20h2v4h-2zM1099 22h4v1h-4zM1103 21h1v3h-1zM1102 22h3v1h-3zM1105 21h2v3h-2zM1104 22h4v1h-4zM1108 21h1v3h-1zM1107 22h3v1h-3zM1110 21h2v3h-2zM1109 22h4v1h-4zM1113 21h1v4h-1zM1112 22h3v1h-3zM1115 21h2v4h-2zM1114 22h4v1h-4zM1118 21h1v4h-1zM1117 22h3v1h-3zM1120 21h2v4h-2zM1119 22h4v1h-4zM1123 21h1v4h-1zM1122 23h3v1h-3zM1125 21h2v4h-2zM1124 23h4v1h-4zM1128 21h1v4h-1zM1127 23h3v1h-3zM1130 22h2v3h-2zM1129 23h4v1h-4zM1133 22h1v3h-1zM1132 23h3v1h-3zM1135 22h2v3h-2zM1134 23h4v1h-4zM1138 22h1v3h-1zM1137 23h3v1h-3zM1140 22h2v3h-2zM1139 23h4v1h-4zM1143 22h1v4h-1zM1142 23h3v1h-3zM1145 22h2v4h-2zM1144 23h4v1h-4zM1148 22h1v4h-1zM1147 23h3v1h-3zM1150 22h2v4h-2zM1149 24h4v1h-4zM1153 22h1v4h-1zM1152 24h3v1h-3zM1155 22h2v4h-2zM1154 24h4v1h-4zM1158 23h1v3h-1zM1157 24h3v1h-3zM1160 23h2v3h-2zM1159 24h4v1h-4zM1163 23h1v3h-1zM1162 24h3v1h-3zM1165 23h2v3h-2zM1164 24h4v1h-4zM1168 23h1v4h-1zM1167 24h3v1h-3zM1170 23h2v4h-2zM1169 24h4v1h-4zM1173 23h1v4h-1zM1172 25h3v1h-3zM1175 23h2v4h-2zM1174 25h4v1h-4zM1178 23h1v4h-1zM1177 25h3v1h-3zM1180 24h2v3h-2zM1179 25h4v1h-4zM1183 24h1v3h-1zM1182 25h3v1h-3zM1185 24h2v3h-2zM1184 25h4v1h-4zM1188 24h1v4h-1zM1187 25h3v1h-3zM1190 24h2v4h-2zM1189 25h4v1h-4zM1193 24h1v4h-1zM1192 26h3v1h-3zM1195 24h2v4h-2zM1194 26h4v1h-4zM1198 25h1v3h-1zM1197 26h3v1h-3zM1200 25h2v3h-2zM1199 26h4v1h-4zM1203 25h1v3h-1zM1202 26h3v1h-3zM1205 25h2v4h-2zM1204 26h4v1h-4zM1208 25h1v4h-1zM1207 26h3v1h-3zM1210 25h2v4h-2zM1209 27h4v1h-4zM1213 25h1v4h-1zM1212 27h3v1h-3zM1215 26h2v3h-2zM1214 27h4v1h-4zM1218 26h1v3h-1zM1217 27h3v1h-3zM1220 26h2v3h-2zM1219 27h4v1h-4zM1223 26h1v4h-1zM1222 27h3v1h-3zM1225 26h2v4h-2zM1224 27h4v1h-4zM1228 26h1v4h-1zM1227 28h3v1h-3zM1230 26h2v4h-2zM1229 28h4v1h-4zM1233 27h1v3h-1zM1232 28h3v1h-3zM1235 27h2v3h-2zM1234 28h4v1h-4zM1238 27h1v3h-1zM1237 28h3v1h-3zM1240 27h2v4h-2zM1239 28h4v1h-4zM1243 27h1v4h-1zM1242 28h3v1h-3zM1245 27h2v4h-2zM1244 28h4v1h-4zM1248 27h1v4h-1zM1247 29h3v1h-3zM1250 27h2v4h-2zM1249 29h4v1h-4zM1253 28h1v3h-1zM1252 29h3v1h-3zM1255 28h2v3h-2zM1254 29h4v1h-4zM1258 28h1v3h-1zM1257 29h3v1h-3zM1260 28h2v4h-2zM1259 29h4v1h-4zM1263 28h1v4h-1zM1262 29h3v1h-3zM1265 28h2v4h-2zM1264 30h4v1h-4zM1268 28h1v4h-1zM1267 30h3v1h-3zM1270 29h2v3h-2zM1269 30h4v1h-4zM1273 29h1v3h-1zM1272 30h3v1h-3zM1275 29h2v3h-2zM1274 30h4v1h-4zM1278 29h1v4h-1zM1277 30h3v1h-3zM1280 29h2v4h-2zM1279 30h4v1h-4zM1283 29h1v4h-1zM1282 31h3v1h-3zM1285 29h2v4h-2zM1284 31h4v1h-4zM1288 30h1v3h-1zM1287 31h3v1h-3zM1290 30h2v3h-2zM1289 31h4v1h-4zM1293 30h1v4h-1zM1292 31h3v1h-3zM1295 30h2v4h-2zM1294 31h4v1h-4zM1298 30h1v4h-1zM1297 32h3v1h-3zM1300 30h2v4h-2zM1299 32h4v1h-4zM1303 31h1v3h-1zM1302 32h3v1h-3zM1305 31h2v3h-2zM1304 32h4v1h-4zM1308 31h1v4h-1zM1307 32h3v1h-3zM1310 31h2v4h-2zM1309 32h4v1h-4zM1313 31h1v4h-1zM1312 33h3v1h-3zM1315 32h2v3h-2zM1314 33h4v1h-4zM1318 32h1v3h-1zM1317 33h3v1h-3zM1320 32h2v3h-2zM1319 33h4v1h-4zM1323 32h1v4h-1zM1322 33h3v1h-3zM1325 32h2v4h-2zM1324 34h4v1h-4zM1328 32h1v4h-1zM1327 34h3v1h-3zM1330 33h2v3h-2zM1329 34h4v1h-4zM1333 33h1v3h-1zM1332 34h3v1h-3zM1335 33h2v4h-2zM1334 34h4v1h-4zM1338 33h1v4h-1zM1337 34h3v1h-3zM1340 33h2v4h-2zM1339 35h4v1h-4zM1343 33h1v4h-1zM1342 35h3v1h-3zM1345 34h2v3h-2zM1344 35h4v1h-4zM1348 34h1v3h-1zM1347 35h3v1h-3zM1350 34h2v4h-2zM1349 35h4v1h-4zM1353 34h1v4h-1zM1352 35h3v1h-3zM1355 34h2v4h-2zM1354 36h4v1h-4zM1358 34h1v4h-1zM1357 36h3v1h-3zM1360 35h2v3h-2zM1359 36h4v1h-4zM1363 35h1v3h-1zM1362 36h3v1h-3zM1365 35h2v4h-2zM1364 36h4v1h-4zM1368 35h1v4h-1zM1367 36h3v1h-3zM1370 35h2v4h-2zM1369 37h4v1h-4zM1373 36h1v3h-1zM1372 37h3v1h-3zM1375 36h2v3h-2zM1374 37h4v1h-4zM1378 36h1v4h-1zM1377 37h3v1h-3zM1380 36h2v4h-2zM1379 37h4v1h-4zM1383 36h1v4h-1zM1382 38h3v1h-3zM1385 36h2v4h-2zM1384 38h4v1h-4zM1388 37h1v3h-1zM1387 38h3v1h-3zM1390 37h2v3h-2zM1389 38h4v1h-4zM1393 37h1v4h-1zM1392 38h3v1h-3zM1395 37h2v4h-2zM1394 38h4v1h-4zM1398 37h1v4h-1zM1397 39h3v1h-3zM1400 38h2v3h-2zM1399 39h4v1h-4zM1403 38h1v3h-1zM1402 39h3v1h-3zM1405 38h2v4h-2zM1404 39h4v1h-4zM1408 38h1v4h-1zM1407 39h3v1h-3zM1410 38h2v4h-2zM1409 40h4v1h-4zM1413 38h1v4h-1zM1412 40h3v1h-3zM1415 39h2v3h-2zM1414 40h4v1h-4zM1418 39h1v3h-1zM1417 40h3v1h-3zM1420 39h2v4h-2zM1419 40h4v1h-4zM1423 39h1v4h-1zM1422 41h3v1h-3z"/>
<path fill="#000" shape-rendering="crispEdges" d="M75 354h1351v1h-1351zM77 353h2v3h-2zM76 354h4v1h-4zM80 353h2v3h-2zM79 354h4v1h-4zM83 353h1v3h-1zM82 354h3v1h-3zM85 353h2v3h-2zM84 354h4v1h-4zM88 353h1v3h-1zM87 354h3v1h-3zM90 353h2v3h-2zM89 354h4v1h-4zM93 353h1v3h-1zM92 354h3v1h-3zM95 353h2v3h-2zM94 354h4v1h-4zM98 353h1v3h-1zM97 354h3v1h-3zM100 353h2v3h-2zM99 354h4v1h-4zM103 353h1v3h-1zM102 354h3v1h-3zM105 353h2v3h-2zM104 354h4v1h-4zM108 353h1v3h-1zM107 354h3v1h-3zM110 353h2v3h-2zM109 354h4v1h-4zM113 353h1v3h-1zM112 354h3v1h-3zM115 353h2v3h-2zM114 354h4v1h-4zM118 353h1v3h-1zM117 354h3v1h-3zM120 353h2v3h-2zM119 354h4v1h-4zM123 353h1v3h-1zM122 354h3v1h-3zM125 353h2v3h-2zM124 354h4v1h-4zM128 353h1v3h-1zM127 354h3v1h-3zM130 353h2v3h-2zM129 354h4v1h-4zM133 353h1v3h-1zM132 354h3v1h-3zM135 353h2v3h-2zM134 354h4v1h-4zM138 353h1v3h-1zM137 354h3v1h-3zM140 353h2v3h-2zM139 354h4v1h-4zM143 353h1v3h-1zM142 354h3v1h-3zM145 353h2v3h-2zM144 354h4v1h-4zM148 353h1v3h-1zM147 354h3v1h-3zM150 353h2v3h-2zM149 354h4v1h-4zM153 353h1v3h-1zM152 354h3v1h-3zM155 353h2v3h-2zM154 354h4v1h-4zM158 353h1v3h-1zM157 354h3v1h-3zM160 353h2v3h-2zM159 354h4v1h-4zM163 353h1v3h-1zM162 354h3v1h-3zM165 353h2v3h-2zM164 354h4v1h-4zM168 353h1v3h-1zM167 354h3v1h-3zM170 353h2v3h-2zM169 354h4v1h-4zM173 353h1v3h-1zM172 354h3v1h-3zM175 353h2v3h-2zM174 354h4v1h-4zM178 353h1v3h-1zM177 354h3v1h-3zM180 353h2v3h-2zM179 354h4v1h-4zM183 353h1v3h-1zM182 354h3v1h-3zM185 353h2v3h-2zM184 354h4v1h-4zM188 353h1v3h-1zM187 354h3v1h-3zM190 353h2v3h-2zM189 354h4v1h-4zM193 353h1v3h-1zM192 354h3v1h-3zM195 353h2v3h-2zM194 354h4v1h-4zM198 353h1v3h-1zM197 354h3v1h-3zM200 353h2v3h-2zM199 354h4v1h-4zM203 353h1v3h-1zM202 354h3v1h-3zM205 353h2v3h-2zM204 354h4v1h-4zM208 353h1v3h-1zM207 354h3v1h-3zM210 353h2v3h-2zM209 354h4v1h-4zM213 353h1v3h-1zM212 354h3v1h-3zM215 353h2v3h-2zM214 354h4v1h-4zM218 353h1v3h-1zM217 354h3v1h-3zM220 353h2v3h-2zM219 354h4v1h-4zM223 353h1v3h-1zM222 354h3v1h-3zM225 353h2v3h-2zM224 354h4v1h-4zM228 353h1v3h-1zM227 354h3v1h-3zM230 353h2v3h-2zM229 354h4v1h-4zM233 353h1v3h-1zM232 354h3v1h-3zM235 353h2v3h-2zM234 354h4v1h-4zM238 353h1v3h-1zM237 354h3v1h-3zM240 353h2v3h-2zM239 354h4v1h-4zM243 353h1v3h-1zM242 354h3v1h-3zM245 353h2v3h-2zM244 354h4v1h-4zM248 353h1v3h-1zM247 354h3v1h-3zM250 353h2v3h-2zM249 354h4v1h-4zM253 353h1v3h-1zM252 354h3v1h-3zM255 353h2v3h-2zM254 354h4v1h-4zM258 353h1v3h-1zM257 354h3v1h-3zM260 353h2v3h-2zM259 354h4v1h-4zM263 353h1v3h-1zM262 354h3v1h-3zM265 353h2v3h-2zM264 354h4v1h-4zM268 353h1v3h-1zM267 354h3v1h-3zM270 353h2v3h-2zM269 354h4v1h-4zM273 353h1v3h-1zM272 354h3v1h-3zM275 353h2v3h-2zM274 354h4v1h-4zM278 353h1v3h-1zM277 354h3v1h-3zM280 353h2v3h-2zM279 354h4v1h-4zM283 353h1v3h-1zM282 354h3v1h-3zM285 353h2v3h-2zM284 354h4v1h-4zM288 353h1v3h-1zM287 354h3v1h-3zM290 353h2v3h-2zM289 354h4v1h-4zM293 353h1v3h-1zM292 354h3v1h-3zM295 353h2v3h-2zM294 354h4v1h-4zM298 353h1v3h-1zM297 354h3v1h-3zM300 353h2v3h-2zM299 354h4v1h-4zM303 353h1v3h-1zM302 354h3v1h-3zM305 353h2v3h-2zM304 354h4v1h-4zM308 353h1v3h-1zM307 354h3v1h-3zM310 353h2v3h-2zM309 354h4v1h-4zM313 353h1v3h-1zM312 354h3v1h-3zM315 353h2v3h-2zM314 354h4v1h-4zM318 353h1v3h-1zM317 354h3v1h-3zM320 353h2v3h-2zM319 354h4v1h-4zM323 353h1v3h-1zM322 354h3v1h-3zM325 353h2v3h-2zM324 354h4v1h-4zM328 353h1v3h-1zM327 354h3v1h-3zM330 353h2v3h-2zM329 354h4v1h-4zM333 353h1v3h-1zM332 354h3v1h-3zM335 353h2v3h-2zM334 354h4v1h-4zM338 353h1v3h-1zM337 354h3v1h-3zM340 353h2v3h-2zM339 354h4v1h-4zM343 353h1v3h-1zM342 354h3v1h-3zM345 353h2v3h-2zM344 354h4v1h-4zM348 353h1v3h-1zM347 354h3v1h-3zM350 353h2v3h-2zM349 354h4v1h-4zM353 353h1v3h-1zM352 354h3v1h-3zM355 353h2v3h-2zM354 354h4v1h-4zM358 353h1v3h-1zM357 354h3v1h-3zM360 353h2v3h-2zM359 354h4v1h-4zM363 353h1v3h-1zM362 354h3v1h-3zM365 353h2v3h-2zM364 354h4v1h-4zM368 353h1v3h-1zM367 354h3v1h-3zM370 353h2v3h-2zM369 354h4v1h-4zM373 353h1v3h-1zM372 354h3v1h-3zM375 353h2v3h-2zM374 354h4v1h-4zM378 353h1v3h-1zM377 354h3v1h-3zM380 353h2v3h-2zM379 354h4v1h-4zM383 353h1v3h-1zM382 354h3v1h-3zM385 353h2v3h-2zM384 354h4v1h-4zM388 353h1v3h-1zM387 354h3v1h-3zM390 353h2v3h-2zM389 354h4v1h-4zM393 353h1v3h-1zM392 354h3v1h-3zM395 353h2v3h-2zM394 354h4v1h-4zM398 353h1v3h-1zM397 354h3v1h-3zM400 353h2v3h-2zM399 354h4v1h-4zM403 353h1v3h-1zM402 354h3v1h-3zM405 353h2v3h-2zM404 354h4v1h-4zM408 353h1v3h-1zM407 354h3v1h-3zM410 353h2v3h-2zM409 354h4v1h-4zM413 353h1v3h-1zM412 354h3v1h-3zM415 353h2v3h-2zM414 354h4v1h-4zM418 353h1v3h-1zM417 354h3v1h-3zM420 353h2v3h-2zM419 354h4v1h-4zM423 353h1v3h-1zM422 354h3v1h-3zM425 353h2v3h-2zM424 354h4v1h-4zM428 353h1v3h-1zM427 354h3v1h-3zM430 353h2v3h-2zM429 354h4v1h-4zM433 353h1v3h-1zM432 354h3v1h-3zM435 353h2v3h-2zM434 354h4v1h-4zM438 353h1v3h-1zM437 354h3v1h-3zM440 353h2v3h-2zM439 354h4v1h-4zM443 353h1v3h-1zM442 354h3v1h-3zM445 353h2v3h-2zM444 354h4v1h-4zM448 353h1v3h-1zM447 354h3v1h-3zM450 353h2v3h-2zM449 354h4v1h-4zM453 353h1v3h-1zM452 354h3v1h-3zM455 353h2v3h-2zM454 354h4v1h-4zM458 353h1v3h-1zM457 354h3v1h-3zM460 353h2v3h-2zM459 354h4v1h-4zM463 353h1v3h-1zM462 354h3v1h-3zM465 353h2v3h-2zM464 354h4v1h-4zM468 353h1v3h-1zM467 354h3v1h-3zM470 353h2v3h-2zM469 354h4v1h-4zM473 353h1v3h-1zM472 354h3v1h-3zM475 353h2v3h-2zM474 354h4v1h-4zM478 353h1v3h-1zM477 354h3v1h-3zM480 353h2v3h-2zM479 354h4v1h-4zM483 353h1v3h-1zM482 354h3v1h-3zM485 353h2v3h-2zM484 354h4v1h-4zM488 353h1v3h-1zM487 354h3v1h-3zM490 353h2v3h-2zM489 354h4v1h-4zM493 353h1v3h-1zM492 354h3v1h-3zM495 353h2v3h-2zM494 354h4v1h-4zM498 353h1v3h-1zM497 354h3v1h-3zM500 353h2v3h-2zM499 354h4v1h-4zM503 353h1v3h-1zM502 354h3v1h-3zM505 353h2v3h-2zM504 354h4v1h-4zM508 353h1v3h-1zM507 354h3v1h-3zM510 353h2v3h-2zM509 354h4v1h-4zM513 353h1v3h-1zM512 354h3v1h-3zM515 353h2v3h-2zM514 354h4v1h-4zM518 353h1v3h-1zM517 354h3v1h-3zM520 353h2v3h-2zM519 354h4v1h-4zM523 353h1v3h-1zM522 354h3v1h-3zM525 353h2v3h-2zM524 354h4v1h-4zM528 353h1v3h-1zM527 354h3v1h-3zM530 353h2v3h-2zM529 354h4v1h-4zM533 353h1v3h-1zM532 354h3v1h-3zM535 353h2v3h-2zM534 354h4v1h-4zM538 353h1v3h-1zM537 354h3v1h-3zM540 353h2v3h-2zM539 354h4v1h-4zM543 353h1v3h-1zM542 354h3v1h-3zM545 353h2v3h-2zM544 354h4v1h-4zM548 353h1v3h-1zM547 354h3v1h-3zM550 353h2v3h-2zM549 354h4v1h-4zM553 353h1v3h-1zM552 354h3v1h-3zM555 353h2v3h-2zM554 354h4v1h-4zM558 353h1v3h-1zM557 354h3v1h-3zM560 353h2v3h-2zM559 354h4v1h-4zM563 353h1v3h-1zM562 354h3v1h-3zM565 353h2v3h-2zM564 354h4v1h-4zM568 353h1v3h-1zM567 354h3v1h-3zM570 353h2v3h-2zM569 354h4v1h-4zM573 353h1v3h-1zM572 354h3v1h-3zM575 353h2v3h-2zM574 354h4v1h-4zM578 353h1v3h-1zM577 354h3v1h-3zM580 353h2v3h-2zM579 354h4v1h-4zM583 353h1v3h-1zM582 354h3v1h-3zM585 353h2v3h-2zM584 354h4v1h-4zM588 353h1v3h-1zM587 354h3v1h-3zM590 353h2v3h-2zM589 354h4v1h-4zM593 353h1v3h-1zM592 354h3v1h-3zM595 353h2v3h-2zM594 354h4v1h-4zM598 353h1v3h-1zM597 354h3v1h-3zM600 353h2v3h-2zM599 354h4v1h-4zM603 353h1v3h-1zM602 354h3v1h-3zM605 353h2v3h-2zM604 354h4v1h-4zM608 353h1v3h-1zM607 354h3v1h-3zM610 353h2v3h-2zM609 354h4v1h-4zM613 353h1v3h-1zM612 354h3v1h-3zM615 353h2v3h-2zM614 354h4v1h-4zM618 353h1v3h-1zM617 354h3v1h-3zM620 353h2v3h-2zM619 354h4v1h-4zM623 353h1v3h-1zM622 354h3v1h-3zM625 353h2v3h-2zM624 354h4v1h-4zM628 353h1v3h-1zM627 354h3v1h-3zM630 353h2v3h-2zM629 354h4v1h-4zM633 353h1v3h-1zM632 354h3v1h-3zM635 353h2v3h-2zM634 354h4v1h-4zM638 353h1v3h-1zM637 354h3v1h-3zM640 353h2v3h-2zM639 354h4v1h-4zM643 353h1v3h-1zM642 354h3v1h-3zM645 353h2v3h-2zM644 354h4v1h-4zM648 353h1v3h-1zM647 354h3v1h-3zM650 353h2v3h-2zM649 354h4v1h-4zM653 353h1v3h-1zM652 354h3v1h-3zM655 353h2v3h-2zM654 354h4v1h-4zM658 353h1v3h-1zM657 354h3v1h-3zM660 353h2v3h-2zM659 354h4v1h-4zM663 353h1v3h-1zM662 354h3v1h-3zM665 353h2v3h-2zM664 354h4v1h-4zM668 353h1v3h-1zM667 354h3v1h-3zM670 353h2v3h-2zM669 354h4v1h-4zM673 353h1v3h-1zM672 354h3v1h-3zM675 353h2v3h-2zM674 354h4v1h-4zM678 353h1v3h-1zM677 354h3v1h-3zM680 353h2v3h-2zM679 354h4v1h-4zM683 353h1v3h-1zM682 354h3v1h-3zM685 353h2v3h-2zM684 354h4v1h-4zM688 353h1v3h-1zM687 354h3v1h-3zM690 353h2v3h-2zM689 354h4v1h-4zM693 353h1v3h-1zM692 354h3v1h-3zM695 353h2v3h-2zM694 354h4v1h-4zM698 353h1v3h-1zM697 354h3v1h-3zM700 353h2v3h-2zM699 354h4v1h-4zM703 353h1v3h-1zM702 354h3v1h-3zM705 353h2v3h-2zM704 354h4v1h-4zM708 353h1v3h-1zM707 354h3v1h-3zM710 353h2v3h-2zM709 354h4v1h-4zM713 353h1v3h-1zM712 354h3v1h-3zM715 353h2v3h-2zM714 354h4v1h-4zM718 353h1v3h-1zM717 354h3v1h-3zM720 353h2v3h-2zM719 354h4v1h-4zM723 353h1v3h-1zM722 354h3v1h-3zM725 353h2v3h-2zM724 354h4v1h-4zM728 353h1v3h-1zM727 354h3v1h-3zM730 353h2v3h-2zM729 354h4v1h-4zM733 353h1v3h-1zM732 354h3v1h-3zM735 353h2v3h-2zM734 354h4v1h-4zM738 353h1v3h-1zM737 354h3v1h-3zM740 353h2v3h-2zM739 354h4v1h-4zM743 353h1v3h-1zM742 354h3v1h-3zM745 353h2v3h-2zM744 354h4v1h-4zM748 353h1v3h-1zM747 354h3v1h-3zM750 353h2v3h-2zM749 354h4v1h-4zM753 353h1v3h-1zM752 354h3v1h-3zM755 353h2v3h-2zM754 354h4v1h-4zM758 353h1v3h-1zM757 354h3v1h-3zM760 353h2v3h-2zM759 354h4v1h-4zM763 353h1v3h-1zM762 354h3v1h-3zM765 353h2v3h-2zM764 354h4v1h-4zM768 353h1v3h-1zM767 354h3v1h-3zM770 353h2v3h-2zM769 354h4v1h-4zM773 353h1v3h-1zM772 354h3v1h-3zM775 353h2v3h-2zM774 354h4v1h-4zM778 353h1v3h-1zM777 354h3v1h-3zM780 353h2v3h-2zM779 354h4v1h-4zM783 353h1v3h-1zM782 354h3v1h-3zM785 353h2v3h-2zM784 354h4v1h-4zM788 353h1v3h-1zM787 354h3v1h-3zM790 353h2v3h-2zM789 354h4v1h-4zM793 353h1v3h-1zM792 354h3v1h-3zM795 353h2v3h-2zM794 354h4v1h-4zM798 353h1v3h-1zM797 354h3v1h-3zM800 353h2v3h-2zM799 354h4v1h-4zM803 353h1v3h-1zM802 354h3v1h-3zM805 353h2v3h-2zM804 354h4v1h-4zM808 353h1v3h-1zM807 354h3v1h-3zM810 353h2v3h-2zM809 354h4v1h-4zM813 353h1v3h-1zM812 354h3v1h-3zM815 353h2v3h-2zM814 354h4v1h-4zM818 353h1v3h-1zM817 354h3v1h-3zM820 353h2v3h-2zM819 354h4v1h-4zM823 353h1v3h-1zM822 354h3v1h-3zM825 353h2v3h-2zM824 354h4v1h-4zM828 353h1v3h-1zM827 354h3v1h-3zM830 353h2v3h-2zM829 354h4v1h-4zM833 353h1v3h-1zM832 354h3v1h-3zM835 353h2v3h-2zM834 354h4v1h-4zM838 353h1v3h-1zM837 354h3v1h-3zM840 353h2v3h-2zM839 354h4v1h-4zM843 353h1v3h-1zM842 354h3v1h-3zM845 353h2v3h-2zM844 354h4v1h-4zM848 353h1v3h-1zM847 354h3v1h-3zM850 353h2v3h-2zM849 354h4v1h-4zM853 353h1v3h-1zM852 354h3v1h-3zM855 353h2v3h-2zM854 354h4v1h-4zM858 353h1v3h-1zM857 354h3v1h-3zM860 353h2v3h-2zM859 354h4v1h-4zM863 353h1v3h-1zM862 354h3v1h-3zM865 353h2v3h-2zM864 354h4v1h-4zM868 353h1v3h-1zM867 354h3v1h-3zM870 353h2v3h-2zM869 354h4v1h-4zM873 353h1v3h-1zM872 354h3v1h-3zM875 353h2v3h-2zM874 354h4v1h-4zM878 353h1v3h-1zM877 354h3v1h-3zM880 353h2v3h-2zM879 354h4v1h-4zM883 353h1v3h-1zM882 354h3v1h-3zM885 353h2v3h-2zM884 354h4v1h-4zM888 353h1v3h-1zM887 354h3v1h-3zM890 353h2v3h-2zM889 354h4v1h-4zM893 353h1v3h-1zM892 354h3v1h-3zM895 353h2v3h-2zM894 354h4v1h-4zM898 353h1v3h-1zM897 354h3v1h-3zM900 353h2v3h-2zM899 354h4v1h-4zM903 353h1v3h-1zM902 354h3v1h-3zM905 353h2v3h-2zM904 354h4v1h-4zM908 353h1v3h-1zM907 354h3v1h-3zM910 353h2v3h-2zM909 354h4v1h-4zM913 353h1v3h-1zM912 354h3v1h-3zM915 353h2v3h-2zM914 354h4v1h-4zM918 353h1v3h-1zM917 354h3v1h-3zM920 353h2v3h-2zM919 354h4v1h-4zM923 353h1v3h-1zM922 354h3v1h-3zM925 353h2v3h-2zM924 354h4v1h-4zM928 353h1v3h-1zM927 354h3v1h-3zM930 353h2v3h-2zM929 354h4v1h-4zM933 353h1v3h-1zM932 354h3v1h-3zM935 353h2v3h-2zM934 354h4v1h-4zM938 353h1v3h-1zM937 354h3v1h-3zM940 353h2v3h-2zM939 354h4v1h-4zM943 353h1v3h-1zM942 354h3v1h-3zM945 353h2v3h-2zM944 354h4v1h-4zM948 353h1v3h-1zM947 354h3v1h-3zM950 353h2v3h-2zM949 354h4v1h-4zM953 353h1v3h-1zM952 354h3v1h-3zM955 353h2v3h-2zM954 354h4v1h-4zM958 353h1v3h-1zM957 354h3v1h-3zM960 353h2v3h-2zM959 354h4v1h-4zM963 353h1v3h-1zM962 354h3v1h-3zM965 353h2v3h-2zM964 354h4v1h-4zM968 353h1v3h-1zM967 354h3v1h-3zM970 353h2v3h-2zM969 354h4v1h-4zM973 353h1v3h-1zM972 354h3v1h-3zM975 353h2v3h-2zM974 354h4v1h-4zM978 353h1v3h-1zM977 354h3v1h-3zM980 353h2v3h-2zM979 354h4v1h-4zM983 353h1v3h-1zM982 354h3v1h-3zM985 353h2v3h-2zM984 354h4v1h-4zM988 353h1v3h-1zM987 354h3v1h-3zM990 353h2v3h-2zM989 354h4v1h-4zM993 353h1v3h-1zM992 354h3v1h-3zM995 353h2v3h-2zM994 354h4v1h-4zM998 353h1v3h-1zM997 354h3v1h-3zM1000 353h2v3h-2zM999 354h4v1h-4zM1003 353h1v3h-1zM1002 354h3v1h-3zM1005 353h2v3h-2zM1004 354h4v1h-4zM1008 353h1v3h-1zM1007 354h3v1h-3zM1010 353h2v3h-2zM1009 354h4v1h-4zM1013 353h1v3h-1zM1012 354h3v1h-3zM1015 353h2v3h-2zM1014 354h4v1h-4zM1018 353h1v3h-1zM1017 354h3v1h-3zM1020 353h2v3h-2zM1019 354h4v1h-4zM1023 353h1v3h-1zM1022 354h3v1h-3zM1025 353h2v3h-2zM1024 354h4v1h-4zM1028 353h1v3h-1zM1027 354h3v1h-3zM1030 353h2v3h-2zM1029 354h4v1h-4zM1033 353h1v3h-1zM1032 354h3v1h-3zM1035 353h2v3h-2zM1034 354h4v1h-4zM1038 353h1v3h-1zM1037 354h3v1h-3zM1040 353h2v3h-2zM1039 354h4v1h-4zM1043 353h1v3h-1zM1042 354h3v1h-3zM1045 353h2v3h-2zM1044 354h4v1h-4zM1048 353h1v3h-1zM1047 354h3v1h-3zM1050 353h2v3h-2zM1049 354h4v1h-4zM1053 353h1v3h-1zM1052 354h3v1h-3zM1055 353h2v3h-2zM1054 354h4v1h-4zM1058 353h1v3h-1zM1057 354h3v1h-3zM1060 353h2v3h-2zM1059 354h4v1h-4zM1063 353h1v3h-1zM1062 354h3v1h-3zM1065 353h2v3h-2zM1064 354h4v1h-4zM1068 353h1v3h-1zM1067 354h3v1h-3zM1070 353h2v3h-2zM1069 354h4v1h-4zM1073 353h1v3h-1zM1072 354h3v1h-3zM1075 353h2v3h-2zM1074 354h4v1h-4zM1078 353h1v3h-1zM1077 354h3v1h-3zM1080 353h2v3h-2zM1079 354h4v1h-4zM1083 353h1v3h-1zM1082 354h3v1h-3zM1085 353h2v3h-2zM1084 354h4v1h-4zM1088 353h1v3h-1zM1087 354h3v1h-3zM1090 353h2v3h-2zM1089 354h4v1h-4zM1093 353h1v3h-1zM1092 354h3v1h-3zM1095 353h2v3h-2zM1094 354h4v1h-4zM1098 353h1v3h-1zM1097 354h3v1h-3zM1100 353h2v3h-2zM1099 354h4v1h-4zM1103 353h1v3h-1zM1102 354h3v1h-3zM1105 353h2v3h-2zM1104 354h4v1h-4zM1108 353h1v3h-1zM1107 354h3v1h-3zM1110 353h2v3h-2zM1109 354h4v1h-4zM1113 353h1v3h-1zM1112 354h3v1h-3zM1115 353h2v3h-2zM1114 354h4v1h-4zM1118 353h1v3h-1zM1117 354h3v1h-3zM1120 353h2v3h-2zM1119 354h4v1h-4zM1123 353h1v3h-1zM1122 354h3v1h-3zM1125 353h2v3h-2zM1124 354h4v1h-4zM1128 353h1v3h-1zM1127 354h3v1h-3zM1130 353h2v3h-2zM1129 354h4v1h-4zM1133 353h1v3h-1zM1132 354h3v1h-3zM1135 353h2v3h-2zM1134 354h4v1h-4zM1138 353h1v3h-1zM1137 354h3v1h-3zM1140 353h2v3h-2zM1139 354h4v1h-4zM1143 353h1v3h-1zM1142 354h3v1h-3zM1145 353h2v3h-2zM1144 354h4v1h-4zM1148 353h1v3h-1zM1147 354h3v1h-3zM1150 353h2v3h-2zM1149 354h4v1h-4zM1153 353h1v3h-1zM1152 354h3v1h-3zM1155 353h2v3h-2zM1154 354h4v1h-4zM1158 353h1v3h-1zM1157 354h3v1h-3zM1160 353h2v3h-2zM1159 354h4v1h-4zM1163 353h1v3h-1zM1162 354h3v1h-3zM1165 353h2v3h-2zM1164 354h4v1h-4zM1168 353h1v3h-1zM1167 354h3v1h-3zM1170 353h2v3h-2zM1169 354h4v1h-4zM1173 353h1v3h-1zM1172 354h3v1h-3zM1175 353h2v3h-2zM1174 354h4v1h-4zM1178 353h1v3h-1zM1177 354h3v1h-3zM1180 353h2v3h-2zM1179 354h4v1h-4zM1183 353h1v3h-1zM1182 354h3v1h-3zM1185 353h2v3h-2zM1184 354h4v1h-4zM1188 353h1v3h-1zM1187 354h3v1h-3zM1190 353h2v3h-2zM1189 354h4v1h-4zM1193 353h1v3h-1zM1192 354h3v1h-3zM1195 353h2v3h-2zM1194 354h4v1h-4zM1198 353h1v3h-1zM1197 354h3v1h-3zM1200 353h2v3h-2zM1199 354h4v1h-4zM1203 353h1v3h-1zM1202 354h3v1h-3zM1205 353h2v3h-2zM1204 354h4v1h-4zM1208 353h1v3h-1zM1207 354h3v1h-3zM1210 353h2v3h-2zM1209 354h4v1h-4zM1213 353h1v3h-1zM1212 354h3v1h-3zM1215 353h2v3h-2zM1214 354h4v1h-4zM1218 353h1v3h-1zM1217 354h3v1h-3zM1220 353h2v3h-2zM1219 354h4v1h-4zM1223 353h1v3h-1zM1222 354h3v1h-3zM1225 353h2v3h-2zM1224 354h4v1h-4zM1228 353h1v3h-1zM1227 354h3v1h-3zM1230 353h2v3h-2zM1229 354h4v1h-4zM1233 353h1v3h-1zM1232 354h3v1h-3zM1235 353h2v3h-2zM1234 354h4v1h-4zM1238 353h1v3h-1zM1237 354h3v1h-3zM1240 353h2v3h-2zM1239 354h4v1h-4zM1243 353h1v3h-1zM1242 354h3v1h-3zM1245 353h2v3h-2zM1244 354h4v1h-4zM1248 353h1v3h-1zM1247 354h3v1h-3zM1250 353h2v3h-2zM1249 354h4v1h-4zM1253 353h1v3h-1zM1252 354h3v1h-3zM1255 353h2v3h-2zM1254 354h4v1h-4zM1258 353h1v3h-1zM1257 354h3v1h-3zM1260 353h2v3h-2zM1259 354h4v1h-4zM1263 353h1v3h-1zM1262 354h3v1h-3zM1265 353h2v3h-2zM1264 354h4v1h-4zM1268 353h1v3h-1zM1267 354h3v1h-3zM1270 353h2v3h-2zM1269 354h4v1h-4zM1273 353h1v3h-1zM1272 354h3v1h-3zM1275 353h2v3h-2zM1274 354h4v1h-4zM1278 353h1v3h-1zM1277 354h3v1h-3zM1280 353h2v3h-2zM1279 354h4v1h-4zM1283 353h1v3h-1zM1282 354h3v1h-3zM1285 353h2v3h-2zM1284 354h4v1h-4zM1288 353h1v3h-1zM1287 354h3v1h-3zM1290 353h2v3h-2zM1289 354h4v1h-4zM1293 353h1v3h-1zM1292 354h3v1h-3zM1295 353h2v3h-2zM1294 354h4v1h-4zM1298 353h1v3h-1zM1297 354h3v1h-3zM1300 353h2v3h-2zM1299 354h4v1h-4zM1303 353h1v3h-1zM1302 354h3v1h-3zM1305 353h2v3h-2zM1304 354h4v1h-4zM1308 353h1v3h-1zM1307 354h3v1h-3zM1310 353h2v3h-2zM1309 354h4v1h-4zM1313 353h1v3h-1zM1312 354h3v1h-3zM1315 353h2v3h-2zM1314 354h4v1h-4zM1318 353h1v3h-1zM1317 354h3v1h-3zM1320 353h2v3h-2zM1319 354h4v1h-4zM1323 353h1v3h-1zM1322 354h3v1h-3zM1325 353h2v3h-2zM1324 354h4v1h-4zM1328 353h1v3h-1zM1327 354h3v1h-3zM1330 353h2v3h-2zM1329 354h4v1h-4zM1333 353h1v3h-1zM1332 354h3v1h-3zM1335 353h2v3h-2zM1334 354h4v1h-4zM1338 353h1v3h-1zM1337 354h3v1h-3zM1340 353h2v3h-2zM1339 354h4v1h-4zM1343 353h1v3h-1zM1342 354h3v1h-3zM1345 353h2v3h-2zM1344 354h4v1h-4zM1348 353h1v3h-1zM1347 354h3v1h-3zM1350 353h2v3h-2zM1349 354h4v1h-4zM1353 353h1v3h-1zM1352 354h3v1h-3zM1355 353h2v3h-2zM1354 354h4v1h-4zM1358 353h1v3h-1zM1357 354h3v1h-3zM1360 353h2v3h-2zM1359 354h4v1h-4zM1363 353h1v3h-1zM1362 354h3v1h-3zM1365 353h2v3h-2zM1364 354h4v1h-4zM1368 353h1v3h-1zM1367 354h3v1h-3zM1370 353h2v3h-2zM1369 354h4v1h-4zM1373 353h1v3h-1zM1372 354h3v1h-3zM1375 353h2v3h-2zM1374 354h4v1h-4zM1378 353h1v3h-1zM1377 354h3v1h-3zM1380 353h2v3h-2zM1379 354h4v1h-4zM1383 353h1v3h-1zM1382 354h3v1h-3zM1385 353h2v3h-2zM1384 354h4v1h-4zM1388 353h1v3h-1zM1387 354h3v1h-3zM1390 353h2v3h-2zM1389 354h4v1h-4zM1393 353h1v3h-1zM1392 354h3v1h-3zM1395 353h2v3h-2zM1394 354h4v1h-4zM1398 353h1v3h-1zM1397 354h3v1h-3zM1400 353h2v3h-2zM1399 354h4v1h-4zM1403 353h1v3h-1zM1402 354h3v1h-3zM1405 353h2v3h-2zM1404 354h4v1h-4zM1408 353h1v3h-1zM1407 354h3v1h-3zM1410 353h2v3h-2zM1409 354h4v1h-4zM1413 353h1v3h-1zM1412 354h3v1h-3zM1415 353h2v3h-2zM1414 354h4v1h-4zM1418 353h1v3h-1zM1417 354h3v1h-3zM1420 353h2v3h-2zM1419 354h4v1h-4zM1423 353h1v3h-1zM1422 354h3v1h-3z"/>
<text x="71.3" y="38.4" text-anchor="end" fill="#000">10</text>
<text x="71.3" y="83.4" text-anchor="end" fill="#000">8</text>
<text x="71.3" y="128.4" text-anchor="end" fill="#000">6</text>
<text x="71.3" y="173.4" text-anchor="end" fill="#000">4</text>
<text x="71.4" y="208.7" text-anchor="end" fill="#000" textLength="16.2" lengthAdjust="spacingAndGlyphs">1.0</text>
<text x="71.4" y="246.7" text-anchor="end" fill="#000" textLength="16.2" lengthAdjust="spacingAndGlyphs">0.5</text>
<text x="71.4" y="283.7" text-anchor="end" fill="#000" textLength="16.2" lengthAdjust="spacingAndGlyphs">0.0</text>
<text x="71.4" y="320.7" text-anchor="end" fill="#000" textLength="24.6" lengthAdjust="spacingAndGlyphs">−0.5</text>
<text x="71.4" y="358.7" text-anchor="end" fill="#000" textLength="24.6" lengthAdjust="spacingAndGlyphs">−1.0</text>
<text x="1428.4" y="46.75" text-anchor="start" fill="#ff00ff" textLength="20" lengthAdjust="spacingAndGlyphs">550</text>
<text x="1428.4" y="82.75" text-anchor="start" fill="#ff00ff" textLength="20" lengthAdjust="spacingAndGlyphs">500</text>
<text x="1428.4" y="118.75" text-anchor="start" fill="#ff00ff" textLength="20" lengthAdjust="spacingAndGlyphs">450</text>
<text x="1428.4" y="153.75" text-anchor="start" fill="#ff00ff" textLength="20" lengthAdjust="spacingAndGlyphs">400</text>
<text x="1428.4" y="189.75" text-anchor="start" fill="#ff00ff" textLength="20" lengthAdjust="spacingAndGlyphs">350</text>
<text x="140.9" y="384.1" text-anchor="end" fill="#000" textLength="24.4" lengthAdjust="spacingAndGlyphs" font-size="13px">0:00</text>
<text x="125.3" y="394" text-anchor="middle" fill="#000" textLength="35" lengthAdjust="spacingAndGlyphs">Aug. 2</text>
<text x="333.9" y="384.1" text-anchor="middle" fill="#000" textLength="30.4" lengthAdjust="spacingAndGlyphs" font-size="13px">12:00</text>
<text x="333.04" y="394" text-anchor="middle" fill="#000" textLength="35" lengthAdjust="spacingAndGlyphs">Aug. 2</text>
<text x="556.2" y="384.1" text-anchor="end" fill="#000" textLength="24.4" lengthAdjust="spacingAndGlyphs" font-size="13px">0:00</text>
<text x="540.78" y="394" text-anchor="middle" fill="#000" textLength="35" lengthAdjust="spacingAndGlyphs">Aug. 3</text>
<text x="749.22" y="384.1" text-anchor="middle" fill="#000" textLength="30.4" lengthAdjust="spacingAndGlyphs" font-size="13px">12:00</text>
<text x="748.52" y="394" text-anchor="middle" fill="#000" textLength="35" lengthAdjust="spacingAndGlyphs">Aug. 3</text>
<text x="971.5" y="384.1" text-anchor="end" fill="#000" textLength="24.4" lengthAdjust="spacingAndGlyphs" font-size="13px">0:00</text>
<text x="956.26" y="394" text-anchor="middle" fill="#000" textLength="35" lengthAdjust="spacingAndGlyphs">Aug. 4</text>
<text x="1164.54" y="384.1" text-anchor="middle" fill="#000" textLength="30.4" lengthAdjust="spacingAndGlyphs" font-size="13px">12:00</text>
<text x="1164" y="394" text-anchor="middle" fill="#000" textLength="35" lengthAdjust="spacingAndGlyphs">Aug. 4</text>
<text x="1386.8" y="384.1" text-anchor="end" fill="#000" textLength="24.4" lengthAdjust="spacingAndGlyphs" font-size="13px">0:00</text>
<text x="1371.74" y="394" text-anchor="middle" fill="#000" textLength="35" lengthAdjust="spacingAndGlyphs">Aug. 5</text>
<text x="622.4" y="406.2" text-anchor="start" fill="#000" textLength="77.6" lengthAdjust="spacingAndGlyphs">hours:minutes,</text>
<text x="706" y="406.2" text-anchor="start" fill="#000" textLength="22.5" lengthAdjust="spacingAndGlyphs">Aug.</text>
<text x="740" y="406.2" text-anchor="start" fill="#000" textLength="10.3" lengthAdjust="spacingAndGlyphs">1,</text>
<text x="754.9" y="406.2" text-anchor="start" fill="#000" textLength="27.4" lengthAdjust="spacingAndGlyphs">2014</text>
<text x="788.9" y="406.2" text-anchor="start" fill="#000" textLength="7" lengthAdjust="spacingAndGlyphs">–</text>
<text x="801.9" y="406.2" text-anchor="start" fill="#000" textLength="23" lengthAdjust="spacingAndGlyphs">Aug.</text>
<text x="835.5" y="406.2" text-anchor="start" fill="#000" textLength="10.8" lengthAdjust="spacingAndGlyphs">5,</text>
<text x="851.9" y="406.2" text-anchor="start" fill="#000" textLength="26.6" lengthAdjust="spacingAndGlyphs">2014</text>
<text transform="translate(19.6 99.7) rotate(-90)" text-anchor="middle" fill="#000" textLength="27.6" lengthAdjust="spacingAndGlyphs">ENLIL</text>
<text transform="translate(30.1 99.7) rotate(-90)" text-anchor="middle" fill="#000" textLength="57.6" lengthAdjust="spacingAndGlyphs">Ion Density</text>
<text transform="translate(49.2 100) rotate(-90)" text-anchor="middle" fill="#000" textLength="34.5" lengthAdjust="spacingAndGlyphs"><tspan font-weight="bold" font-size="13px">[</tspan>cm<tspan dy="-4" font-size="8px">−3</tspan><tspan dy="4" font-weight="bold" font-size="13px">]</tspan></text>
<text transform="translate(18.1 279.8) rotate(-90)" text-anchor="middle" fill="#000" textLength="27.4" lengthAdjust="spacingAndGlyphs">ENLIL</text>
<text transform="translate(26.8 279.6) rotate(-90)" text-anchor="middle" fill="#000" textLength="53" lengthAdjust="spacingAndGlyphs">B<tspan dy="3.6" font-size="8px">r</tspan><tspan dy="-3.6"> polarity</tspan></text>
<text transform="translate(1461.2 100.5) rotate(-90)" text-anchor="middle" fill="#000" textLength="27.2" lengthAdjust="spacingAndGlyphs">ENLIL</text>
<text transform="translate(1470 99.8) rotate(-90)" text-anchor="middle" fill="#000" textLength="40.5" lengthAdjust="spacingAndGlyphs">Velocity</text>
<text transform="translate(1481.3 99.5) rotate(-90)" text-anchor="middle" fill="#000" textLength="39" lengthAdjust="spacingAndGlyphs"><tspan font-weight="bold" font-size="13px">[</tspan>km/s<tspan font-weight="bold" font-size="13px">]</tspan></text>
</svg></body></html>
